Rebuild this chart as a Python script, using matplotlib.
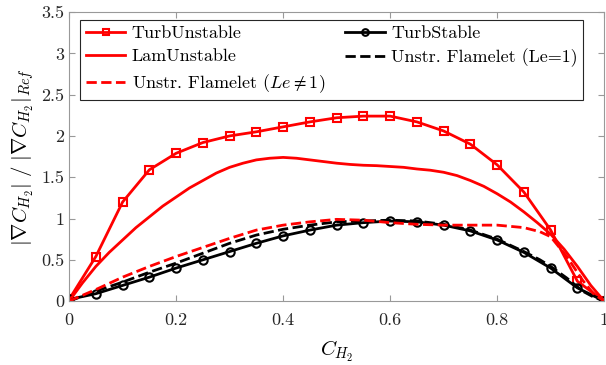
import matplotlib
matplotlib.use('Agg')
import matplotlib.pyplot as plt
from matplotlib.ticker import FormatStrFormatter
import numpy as np

plt.rcParams['font.family'] = 'cmr10'
plt.rcParams['mathtext.fontset'] = 'cm'
plt.rcParams['axes.formatter.use_mathtext'] = True

# marker series, C_H2 = 0, 0.05, ..., 1
c_mark = [0, 0.05, 0.1, 0.15, 0.2, 0.25, 0.3, 0.35, 0.4, 0.45, 0.5,
          0.55, 0.6, 0.65, 0.7, 0.75, 0.8, 0.85, 0.9, 0.95, 1.0]
turb_unstable = [0.02, 0.54, 1.20, 1.59, 1.79, 1.92, 2.0, 2.05, 2.11, 2.17, 2.22,
                 2.24, 2.24, 2.17, 2.06, 1.90, 1.65, 1.32, 0.86, 0.24, 0.0]
turb_stable = [0.02, 0.09, 0.19, 0.29, 0.40, 0.50, 0.60, 0.70, 0.79, 0.86, 0.92,
               0.95, 0.97, 0.96, 0.92, 0.85, 0.74, 0.59, 0.40, 0.16, 0.0]

# laminar curve, read every 0.025
c_lam = [0, 0.025, 0.05, 0.075, 0.1, 0.125, 0.15, 0.175, 0.2, 0.225, 0.25, 0.275,
         0.3, 0.325, 0.35, 0.375, 0.4, 0.425, 0.45, 0.475, 0.5, 0.525, 0.55, 0.575,
         0.6, 0.625, 0.65, 0.675, 0.7, 0.725, 0.75, 0.775, 0.8, 0.825, 0.85, 0.875,
         0.9, 0.925, 0.95, 0.975, 1.0]
lam_unstable = [0.0, 0.22, 0.42, 0.59, 0.74, 0.89, 1.02, 1.15, 1.26, 1.37, 1.46, 1.55,
                1.62, 1.67, 1.71, 1.73, 1.74, 1.73, 1.71, 1.69, 1.67, 1.655, 1.645, 1.64,
                1.63, 1.62, 1.60, 1.585, 1.56, 1.52, 1.46, 1.39, 1.30, 1.20, 1.08, 0.95,
                0.81, 0.63, 0.42, 0.19, 0.0]

# unsteady flamelet curves
c_fl = [0, 0.05, 0.1, 0.15, 0.2, 0.25, 0.3, 0.35, 0.4, 0.45, 0.5, 0.55, 0.6,
        0.65, 0.7, 0.75, 0.8, 0.85, 0.88, 0.9, 0.93, 0.96, 0.98, 1.0]
flamelet_le = [0.0, 0.14, 0.29, 0.42, 0.54, 0.65, 0.76, 0.86, 0.92, 0.96, 0.99,
               0.98, 0.95, 0.93, 0.92, 0.92, 0.92, 0.89, 0.84, 0.78, 0.54, 0.25, 0.09, 0.0]
flamelet_le1 = [0.0, 0.12, 0.23, 0.35, 0.46, 0.58, 0.70, 0.80, 0.87, 0.92, 0.96,
                0.97, 0.98, 0.97, 0.93, 0.86, 0.75, 0.60, 0.50, 0.42, 0.28, 0.12, 0.05, 0.0]

fig = plt.figure(figsize=(6.06, 3.65), dpi=100)
ax = fig.add_axes([0.114, 0.175, 0.883, 0.792])

ax.plot(c_mark, turb_unstable, '-s', color='r', lw=2, ms=6, mfc='none', mew=1.5,
        label='TurbUnstable')
ax.plot(c_mark, turb_stable, '-o', color='k', lw=2, ms=6, mfc='none', mew=1.5,
        label='TurbStable')
ax.plot(c_lam, lam_unstable, '-', color='r', lw=2, label='LamUnstable')
ax.plot(c_fl, flamelet_le1, '--', color='k', lw=2, label='Unstr. Flamelet (Le=1)')
ax.plot(c_fl, flamelet_le, '--', color='r', lw=2, label=r'Unstr. Flamelet ($Le \neq 1$)')

ax.set_xlim(0, 1)
ax.set_ylim(0, 3.5)
ax.set_xticks(np.arange(0, 1.01, 0.2))
ax.set_yticks(np.arange(0, 3.51, 0.5))
ax.xaxis.set_major_formatter(FormatStrFormatter('%g'))
ax.yaxis.set_major_formatter(FormatStrFormatter('%g'))
ax.tick_params(direction='in', top=True, right=True, labelsize=13, colors='#999999',
               labelcolor='#262626', length=4)
ax.tick_params(axis='x', pad=8)
for s in ax.spines.values():
    s.set_color('#999999')

ax.set_xlabel(r'$C_{H_2}$', fontsize=15, labelpad=8)
ax.set_ylabel(r'$|\nabla C_{H_2}|\ /\ |\nabla C_{H_2}|_{Ref}$', fontsize=15)

h, l = ax.get_legend_handles_labels()
leg = ax.legend([h[0], h[2], h[4], h[1], h[3]], [l[0], l[2], l[4], l[1], l[3]],
                ncol=2, loc='upper left', numpoints=1,
                bbox_to_anchor=(0.021, 0.972), fontsize=13,
                fancybox=False, edgecolor='#262626', framealpha=1,
                handlelength=2.2, borderaxespad=0, labelspacing=0.42,
                handletextpad=0.35, borderpad=0.3, markerscale=0.8,
                columnspacing=1.1)
leg.get_frame().set_linewidth(0.8)

fig.savefig('out.png', dpi=100)
